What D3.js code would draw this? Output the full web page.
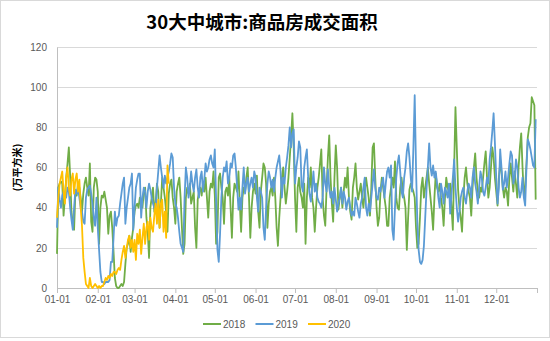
<!DOCTYPE html>
<html>
<head>
<meta charset="utf-8">
<script src="https://cdn.jsdelivr.net/npm/d3@7"></script>
<style>
  body { margin: 0; background: #fff; }
  text { font-family: "Liberation Sans", Arial, sans-serif; }
</style>
</head>
<body>
<svg id="chart"></svg>
<script>
// data (daily values, index = day of year)
const seriesNames = ["2018", "2019", "2020"];
const seriesColors = ["#70ad47", "#5b9bd5", "#ffc000"];
const tickLabels = ["01-01", "02-01", "03-01", "04-01", "05-01", "06-01", "07-01", "08-01", "09-01", "10-01", "11-01", "12-01"];
const yTicks = [0, 20, 40, 60, 80, 100, 120];

const values2018 = [
  17, 50, 52, 53, 52, 36, 45,
  55, 62, 70, 56, 38, 32, 29,
  48, 46, 52, 50, 45, 38, 47,
  52, 55, 50, 46, 62, 33, 28,
  50, 55, 54, 48, 22, 40, 46,
  45, 48, 44, 40, 27, 36, 38,
  30, 18, 5, 1, 0, 0, 1,
  2, 1, 3, 12, 20, 22, 26,
  18, 25, 30, 38, 41, 42, 40,
  45, 43, 40, 48, 50, 35, 28,
  15, 40, 45, 50, 38, 42, 52,
  48, 30, 42, 55, 50, 45, 38,
  28, 47, 52, 54, 45, 40, 32,
  48, 52, 55, 45, 30, 17, 22,
  45, 50, 47, 52, 42, 45, 48,
  30, 20, 44, 48, 50, 46, 52,
  48, 55, 45, 35, 48, 52, 50,
  58, 46, 22, 28, 55, 57, 50,
  45, 32, 48, 50, 46, 55, 40,
  25, 45, 52, 50, 48, 58, 42,
  28, 45, 50, 48, 55, 60, 45,
  25, 40, 48, 52, 47, 56, 38,
  30, 48, 55, 62, 60, 52, 30,
  42, 48, 50, 46, 55, 45, 30,
  21, 35, 45, 55, 60, 50, 42,
  48, 55, 65, 75, 87, 70, 45,
  28, 50, 55, 48, 45, 40, 52,
  22, 45, 55, 50, 60, 45, 40,
  28, 40, 50, 55, 62, 69, 45,
  36, 31, 50, 65, 76, 55, 42,
  33, 55, 71, 60, 39, 45, 50,
  40, 48, 55, 50, 60, 45, 38,
  34, 50, 55, 62, 50, 44, 48,
  52, 45, 40, 48, 55, 50, 45,
  36, 50, 70, 72, 55, 40, 31,
  35, 48, 55, 50, 45, 40, 31,
  31, 45, 50, 55, 50, 63, 45,
  40, 39, 50, 55, 48, 45, 40,
  19, 35, 49, 52, 50, 48, 45,
  30, 20, 22, 35, 50, 55, 45,
  50, 55, 60, 52, 45, 38, 29,
  45, 57, 50, 48, 52, 45, 40,
  31, 45, 55, 50, 48, 52, 40,
  29, 60, 90, 70, 49, 40, 35,
  28, 45, 55, 60, 52, 48, 45,
  36, 50, 60, 67, 55, 48, 45,
  50, 48, 55, 62, 68, 55, 45,
  50, 60, 70, 65, 55, 48, 41,
  55, 62, 58, 50, 45, 50, 48,
  41, 55, 62, 55, 48, 58, 52,
  45, 60, 70, 77, 60, 46, 50,
  62, 75, 80, 82, 95, 93, 91,
  44
];

const values2019 = [
  30, 50, 44, 40, 46, 48, 47,
  45, 50, 48, 40, 34, 29, 40,
  49, 47, 50, 45, 40, 38, 33,
  32, 45, 49, 50, 51, 47, 42,
  35, 31, 45, 30, 19, 8, 3,
  3, 2, 3, 3, 3, 4, 13,
  13, 25, 38, 31, 35, 36, 42,
  47, 52, 55, 32, 40, 45, 50,
  52, 57, 29, 40, 50, 54, 57,
  57, 35, 45, 50, 48, 40, 48,
  52, 49, 45, 42, 40, 39, 50,
  58, 66, 60, 55, 50, 56, 52,
  55, 58, 62, 67, 65, 50, 42,
  40, 35, 28, 22, 20, 18, 45,
  60, 55, 45, 50, 58, 52, 48,
  55, 59, 50, 45, 55, 58, 48,
  54, 62, 58, 60, 64, 66, 62,
  60, 69, 44, 19, 13, 27, 45,
  55, 60, 58, 63, 52, 55, 62,
  60, 66, 67, 60, 50, 39, 45,
  39, 50, 60, 47, 52, 55, 48,
  52, 55, 50, 58, 55, 45, 38,
  50, 48, 45, 30, 24, 40, 52,
  58, 55, 50, 54, 48, 55, 60,
  63, 66, 58, 45, 55, 52, 60,
  65, 71, 80, 70, 77, 79, 52,
  60, 65, 73, 70, 51, 48, 60,
  65, 69, 55, 47, 43, 50, 58,
  48, 52, 45, 43, 42, 40, 45,
  60, 52, 48, 59, 50, 45, 48,
  42, 50, 44, 38, 42, 45, 50,
  42, 48, 45, 39, 43, 45, 40,
  36, 38, 36, 45, 42, 38, 35,
  42, 45, 50, 55, 40, 36, 42,
  38, 45, 52, 59, 50, 45, 44,
  50, 48, 52, 55, 45, 52, 58,
  60, 55, 61, 29, 24, 40, 55,
  62, 66, 58, 48, 45, 55, 60,
  68, 72, 65, 55, 48, 70, 96,
  60, 33, 19, 13, 12, 14, 21,
  35, 49, 60, 72, 60, 56, 61,
  55, 58, 52, 45, 40, 52, 48,
  42, 50, 48, 45, 52, 37, 47,
  55, 64, 50, 40, 33, 38, 45,
  48, 50, 45, 42, 48, 52, 50,
  45, 55, 60, 52, 48, 42, 50,
  58, 55, 48, 46, 50, 55, 52,
  64, 70, 78, 87, 72, 55, 42,
  50, 69, 60, 49, 52, 58, 50,
  55, 62, 68, 66, 52, 55, 64,
  60, 50, 45, 48, 55, 45, 41,
  60, 74, 72, 69, 65, 61, 60,
  84
];

const values2020 = [
  35, 45, 52, 55, 58, 48, 42,
  55, 60, 50, 46, 54, 57, 47,
  54, 57, 48, 54, 40, 31, 15,
  8, 2, 1, 0, 5, 1, 0,
  1, 2, 1, 0, 1, 0, 1,
  1, 3, 5, 4, 6, 5, 7,
  6, 8, 8, 7, 9, 10, 9,
  14, 18, 21, 15, 20, 24, 26,
  20, 24, 18, 24, 14, 27, 22,
  29, 17, 25, 32, 22, 30, 33,
  24, 35, 30, 28, 36, 42, 32,
  44, 30, 42, 44, 28, 38, 25,
  61, 52
];

const allSeries = [values2018, values2019, values2020];

// layout
const width = 550;
const height = 341;
const margin = {top: 47, right: 13, bottom: 53, left: 57};
const plotW = width - margin.left - margin.right;
const plotH = height - margin.top - margin.bottom;

const svg = d3.select('#chart')
    .attr('width', width)
    .attr('height', height);

// outer border
svg.append('rect')
    .attr('x', 0.5).attr('y', 0.5)
    .attr('width', width - 1).attr('height', height - 4)
    .attr('fill', '#fff')
    .attr('stroke', '#d9d9d9');

svg.append('text')
    .attr('x', 262)
    .attr('y', 29)
    .attr('text-anchor', 'middle')
    .style('font-family', '"Noto Sans CJK SC", sans-serif')
    .style('font-size', '18.5px')
    .style('font-weight', 'bold')
    .attr('fill', '#000')
    .text('30大中城市:商品房成交面积');

const g = svg.append('g')
    .attr('transform', 'translate(' + margin.left + ',' + margin.top + ')');

// scales
const x = d3.scaleLinear()
    .domain([0, 365])
    .range([0, plotW]);
const y = d3.scaleLinear()
    .domain([0, 120])
    .range([plotH, 0]);

const base = new Date(2019, 0, 1);
const monthDays = d3.timeMonths(base, new Date(2020, 0, 1)).map(d => d3.timeDay.count(base, d));

// gridlines
g.append('g')
    .selectAll('line')
    .data(yTicks.slice(1))
    .enter()
    .append('line')
    .attr('x1', 0).attr('x2', plotW)
    .attr('y1', d => Math.round(y(d)) + 0.5)
    .attr('y2', d => Math.round(y(d)) + 0.5)
    .attr('stroke', '#d9d9d9');

// y axis
const yAxis = g.append('g')
    .call(d3.axisLeft(y).tickValues(yTicks).tickSize(0).tickPadding(10));
yAxis.select('.domain').attr('stroke', '#bfbfbf');
yAxis.selectAll('text')
    .style('font-size', '10px')
    .attr('fill', '#595959');

// x axis
const xAxis = g.append('g')
    .attr('transform', 'translate(0,' + plotH + ')')
    .call(d3.axisBottom(x)
        .tickValues(monthDays.concat([365]))
        .tickFormat((d, i) => tickLabels[i] || '')
        .tickSize(5)
        .tickSizeOuter(0)
        .tickPadding(3));
xAxis.select('.domain').attr('stroke', '#bfbfbf');
xAxis.selectAll('line').attr('stroke', '#bfbfbf');
xAxis.selectAll('text')
    .style('font-size', '10px')
    .attr('fill', '#595959');

// y label
svg.append('text')
    .attr('transform', 'translate(21,' + (margin.top + plotH / 2) + ') rotate(-90)')
    .attr('text-anchor', 'middle')
    .style('font-family', '"Noto Sans CJK SC", sans-serif')
    .style('font-size', '10px')
    .style('font-weight', 'bold')
    .attr('fill', '#000')
    .text('(万平方米)');

// lines
const line = d3.line()
    .x((d, i) => x(i))
    .y(d => y(d));

g.selectAll('.series')
    .data(allSeries)
    .enter()
    .append('path')
    .attr('class', 'series')
    .attr('d', d => line(d))
    .attr('fill', 'none')
    .attr('stroke', (d, i) => seriesColors[i])
    .attr('stroke-width', 1.8)
    .attr('stroke-linejoin', 'round');

// legend
const legend = svg.append('g')
    .attr('transform', 'translate(203,324)');
const item = legend.selectAll('g')
    .data(seriesNames)
    .enter()
    .append('g')
    .attr('transform', (d, i) => 'translate(' + (i * 52.5) + ',0)');
item.append('line')
    .attr('x1', 0).attr('x2', 18)
    .attr('stroke', (d, i) => seriesColors[i])
    .attr('stroke-width', 2);
item.append('text')
    .attr('x', 20)
    .attr('y', 4)
    .style('font-size', '10px')
    .attr('fill', '#595959')
    .text(d => d);
</script>
</body>
</html>
